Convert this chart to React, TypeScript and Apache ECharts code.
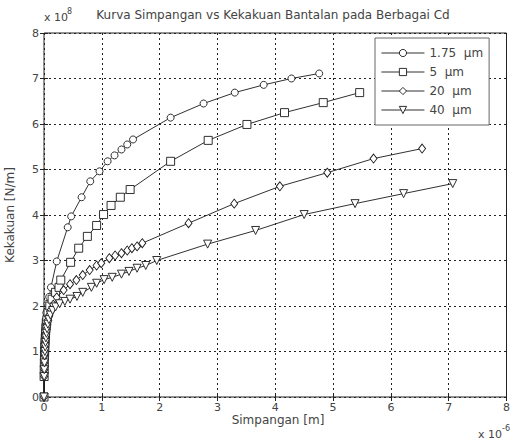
import React, { useEffect, useRef } from "react";
import * as echarts from "echarts";

// Deflection (x 1e-6 m) and stiffness (x 1e8 N/m) for each clearance Cd
const cdLabels = ["1.75", "5", "20", "40"];

const simpangan175 = [0, 0.002, 0.003, 0.004, 0.005, 0.007, 0.009, 0.011, 0.014, 0.017, 0.02, 0.025, 0.03, 0.04, 0.06, 0.09, 0.12, 0.22, 0.41, 0.47, 0.65, 0.8, 0.96, 1.1, 1.22, 1.34, 1.44, 1.54, 2.19, 2.76, 3.3, 3.8, 4.28, 4.76];
const kekakuan175 = [0, 0.45, 0.6, 0.75, 0.9, 1.0, 1.1, 1.2, 1.3, 1.4, 1.5, 1.6, 1.7, 1.85, 2.05, 2.2, 2.41, 2.98, 3.73, 3.97, 4.39, 4.74, 4.96, 5.18, 5.31, 5.44, 5.55, 5.66, 6.14, 6.45, 6.69, 6.86, 7.0, 7.11];

const simpangan5 = [0, 0.002, 0.004, 0.006, 0.008, 0.011, 0.014, 0.018, 0.022, 0.027, 0.033, 0.04, 0.05, 0.07, 0.1, 0.14, 0.2, 0.26, 0.29, 0.46, 0.6, 0.75, 0.91, 1.03, 1.16, 1.32, 1.49, 2.19, 2.84, 3.51, 4.16, 4.83, 5.46];
const kekakuan5 = [0, 0.45, 0.6, 0.75, 0.9, 1.0, 1.1, 1.2, 1.3, 1.4, 1.5, 1.6, 1.7, 1.85, 2.0, 2.15, 2.3, 2.41, 2.57, 2.96, 3.27, 3.53, 3.77, 4.01, 4.21, 4.39, 4.56, 5.18, 5.64, 5.99, 6.25, 6.47, 6.69];

const simpangan20 = [0, 0.003, 0.005, 0.007, 0.01, 0.013, 0.017, 0.022, 0.028, 0.035, 0.045, 0.055, 0.07, 0.09, 0.12, 0.16, 0.22, 0.34, 0.45, 0.56, 0.67, 0.79, 0.91, 0.99, 1.13, 1.23, 1.34, 1.44, 1.52, 1.61, 1.7, 2.5, 3.29, 4.08, 4.9, 5.7, 6.54];
const kekakuan20 = [0, 0.45, 0.6, 0.75, 0.9, 1.0, 1.1, 1.2, 1.3, 1.4, 1.5, 1.6, 1.7, 1.8, 1.92, 2.03, 2.19, 2.35, 2.48, 2.57, 2.68, 2.79, 2.89, 2.94, 3.05, 3.11, 3.16, 3.22, 3.27, 3.31, 3.38, 3.82, 4.25, 4.63, 4.93, 5.24, 5.46];

const simpangan40 = [0, 0.003, 0.005, 0.008, 0.011, 0.015, 0.02, 0.026, 0.033, 0.042, 0.053, 0.067, 0.085, 0.11, 0.15, 0.2, 0.27, 0.36, 0.45, 0.57, 0.67, 0.82, 0.91, 1.04, 1.18, 1.34, 1.47, 1.61, 1.76, 1.95, 2.83, 3.66, 4.5, 5.38, 6.22, 7.07];
const kekakuan40 = [0, 0.45, 0.6, 0.75, 0.9, 1.0, 1.1, 1.2, 1.3, 1.4, 1.5, 1.6, 1.7, 1.8, 1.9, 1.98, 2.05, 2.1, 2.15, 2.21, 2.3, 2.41, 2.5, 2.58, 2.63, 2.7, 2.76, 2.83, 2.89, 3.0, 3.36, 3.66, 4.01, 4.25, 4.47, 4.69];

const xTickMax = 8;
const yTickMax = 8;

const FONT = "'DejaVu Sans', Verdana, sans-serif";
const TEXT = "#444";
const LINE = "#1a1a1a";

function zip(xs: number[], ys: number[]) {
  return xs.map((x, i) => [x, ys[i]]);
}

export default function App() {
  const ref = useRef<HTMLDivElement>(null);

  useEffect(() => {
    if (!ref.current) return;
    const chart = echarts.init(ref.current, undefined, { renderer: "svg" });

    const grid = { left: 44, right: 1, top: 33, bottom: 44 };
    const gridLine = { show: true, lineStyle: { color: "#222", width: 1, type: [2, 3] as any } };
    const tick = { show: true, inside: true, length: 4, lineStyle: { color: "#222" } };

    const baseSeries = (name: string, data: number[][], symbol: string, size: any, rotate = 0) => ({
      name,
      type: "line",
      data,
      symbol,
      symbolSize: size,
      symbolRotate: rotate,
      showSymbol: true,
      lineStyle: { color: LINE, width: 0.9 },
      itemStyle: { color: "#fff", borderColor: LINE, borderWidth: 0.9 },
      emphasis: { disabled: true },
      z: 3,
    });

    chart.setOption({
      animation: false,
      grid: { ...grid, show: true, borderColor: "#222", borderWidth: 1, backgroundColor: "#fff" },
      xAxis: [
        {
          type: "value",
          min: 0,
          max: xTickMax,
          interval: 1,
          axisLine: { show: false },
          axisTick: tick,
          axisLabel: { color: TEXT, fontFamily: FONT, fontSize: 11, margin: 5 },
          splitLine: gridLine,
        },
        {
          type: "value",
          position: "top",
          min: 0,
          max: xTickMax,
          interval: 1,
          axisLine: { show: false },
          axisTick: tick,
          axisLabel: { show: false },
          splitLine: { show: false },
        },
      ],
      yAxis: [
        {
          type: "value",
          min: 0,
          max: yTickMax,
          interval: 1,
          axisLine: { show: false },
          axisTick: tick,
          axisLabel: { color: TEXT, fontFamily: FONT, fontSize: 11, margin: 5 },
          splitLine: gridLine,
        },
        {
          type: "value",
          position: "right",
          min: 0,
          max: yTickMax,
          interval: 1,
          axisLine: { show: false },
          axisTick: tick,
          axisLabel: { show: false },
          splitLine: { show: false },
        },
      ],
      legend: {
        orient: "vertical",
        left: 375,
        top: 38,
        width: 128,
        padding: [8, 6, 8, 6],
        itemGap: 5,
        itemWidth: 43,
        itemHeight: 9,
        backgroundColor: "#fff",
        borderColor: "#666",
        borderWidth: 1,
        selectedMode: false,
        lineStyle: { width: 0.9, color: LINE },
        itemStyle: { color: "#fff", borderColor: LINE, borderWidth: 0.9 },
        textStyle: { color: TEXT, fontFamily: FONT, fontSize: 12, lineHeight: 14 },
        formatter: (name: string) => name + "  \u03bcm",
        data: cdLabels,
      },
      series: [
        baseSeries(cdLabels[0], zip(simpangan175, kekakuan175), "circle", 7),
        baseSeries(cdLabels[1], zip(simpangan5, kekakuan5), "rect", 8),
        baseSeries(cdLabels[2], zip(simpangan20, kekakuan20), "diamond", [7, 9]),
        baseSeries(cdLabels[3], zip(simpangan40, kekakuan40), "triangle", 8, 180),
      ],
      graphic: [
        {
          type: "text",
          x: 273,
          y: 15,
          style: {
            text: "Kurva Simpangan vs Kekakuan Bantalan pada Berbagai Cd",
            font: `12px ${FONT}`,
            fill: TEXT,
            align: "center",
            verticalAlign: "middle",
          },
        },
        {
          type: "text",
          x: 44,
          y: 17,
          style: { text: "x 10", font: `11px ${FONT}`, fill: TEXT, align: "left", verticalAlign: "middle" },
        },
        {
          type: "text",
          x: 67,
          y: 11,
          style: { text: "8", font: `8px ${FONT}`, fill: TEXT, align: "left", verticalAlign: "middle" },
        },
        {
          type: "text",
          x: 278,
          y: 420,
          style: { text: "Simpangan [m]", font: `12px ${FONT}`, fill: TEXT, align: "center", verticalAlign: "middle" },
        },
        {
          type: "text",
          x: 478,
          y: 434,
          style: { text: "x 10", font: `11px ${FONT}`, fill: TEXT, align: "left", verticalAlign: "middle" },
        },
        {
          type: "text",
          x: 502,
          y: 428,
          style: { text: "-6", font: `8px ${FONT}`, fill: TEXT, align: "left", verticalAlign: "middle" },
        },
        {
          type: "text",
          x: 10,
          y: 215,
          rotation: Math.PI / 2,
          style: { text: "Kekakuan [N/m]", font: `12px ${FONT}`, fill: TEXT, align: "center", verticalAlign: "middle" },
        },
      ],
    });

    return () => chart.dispose();
  }, []);

  return <div ref={ref} style={{ width: 513, height: 441, position: "absolute", left: 0, top: 0, background: "#fff" }} />;
}
